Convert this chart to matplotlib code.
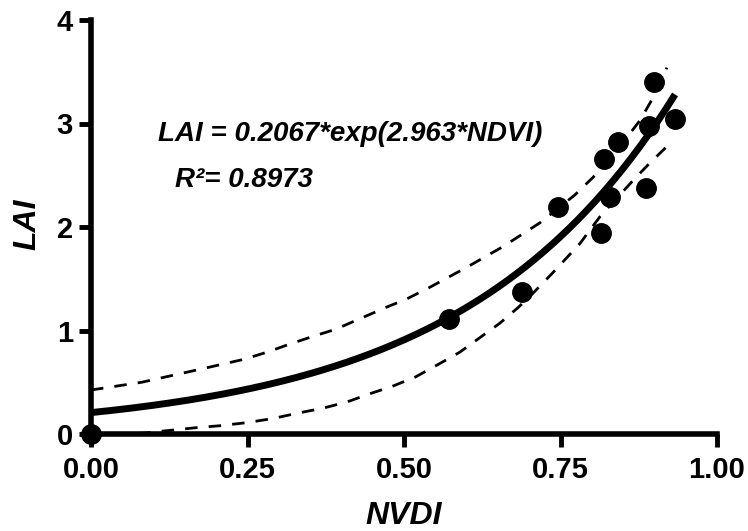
import numpy as np
import matplotlib
matplotlib.use("Agg")
import matplotlib.pyplot as plt

# ---- data ----
ndvi = [0.0, 0.572, 0.689, 0.746, 0.815, 0.819, 0.829, 0.842, 0.887, 0.891, 0.899, 0.933]
lai = [0.0, 1.11, 1.37, 2.19, 1.94, 2.66, 2.29, 2.82, 2.38, 2.98, 3.40, 3.04]

fit_a = 0.2067
fit_b = 2.963

upper_x = [0.0, 0.081, 0.185, 0.243, 0.281, 0.318, 0.358, 0.39, 0.470, 0.506, 0.542,
           0.60, 0.658, 0.717, 0.773, 0.802, 0.840, 0.877, 0.896, 0.920]
upper_y = [0.425, 0.50, 0.64, 0.72, 0.79, 0.87, 0.95, 1.01, 1.22, 1.31, 1.42,
           1.61, 1.81, 2.04, 2.31, 2.48, 2.74, 3.03, 3.23, 3.54]

lower_x = [0.0, 0.086, 0.166, 0.206, 0.249, 0.291, 0.329, 0.371, 0.409, 0.446, 0.481,
           0.518, 0.554, 0.589, 0.621, 0.653, 0.682, 0.706, 0.738, 0.781, 0.813,
           0.869, 0.893, 0.922]
lower_y = [-0.02, 0.01, 0.06, 0.08, 0.11, 0.15, 0.20, 0.25, 0.31, 0.39, 0.46,
           0.55, 0.67, 0.79, 0.93, 1.07, 1.22, 1.36, 1.56, 1.84, 2.10,
           2.47, 2.62, 2.79]

x_ticks = [0.0, 0.25, 0.50, 0.75, 1.00]
x_tick_labels = ["0.00", "0.25", "0.50", "0.75", "1.00"]
y_ticks = [0, 1, 2, 3, 4]
y_tick_labels = ["0", "1", "2", "3", "4"]

eq_text = "LAI = 0.2067*exp(2.963*NDVI)"
r2_text = "R\u00b2= 0.8973"

# ---- figure ----
plt.rcParams['font.family'] = ['Liberation Sans', 'DejaVu Sans']
W, H = 748, 531
fig = plt.figure(figsize=(W / 100, H / 100), dpi=100)
ax = fig.add_axes([91 / W, 97 / H, 626 / W, 414 / H])

xf = np.linspace(0, max(ndvi), 200)
ax.plot(xf, fit_a * np.exp(fit_b * xf), color='black', lw=5, solid_capstyle='butt', zorder=3)
ax.plot(upper_x, upper_y, color='black', lw=2, dashes=(4.5, 4.0), zorder=2)
ax.plot(lower_x, lower_y, color='black', lw=2, dashes=(4.5, 4.0), zorder=2)
ax.plot(ndvi, lai, 'o', color='black', ms=14, clip_on=False, zorder=4)

ax.set_xlim(0, 1)
ax.set_ylim(0, 4)
for s in ['top', 'right']:
    ax.spines[s].set_visible(False)
for s in ['left', 'bottom']:
    ax.spines[s].set_linewidth(4)
    ax.spines[s].set_capstyle('projecting')

ax.set_xticks(x_ticks)
ax.set_xticklabels(x_tick_labels)
ax.set_yticks(y_ticks)
ax.set_yticklabels(y_tick_labels)
ax.tick_params(axis='both', direction='out', length=9, width=3.5, labelsize=21)
ax.tick_params(axis='x', pad=7)
ax.tick_params(axis='y', pad=4)
for lab in ax.get_xticklabels() + ax.get_yticklabels():
    lab.set_fontweight('bold')

ax.text(0.107, 2.83, eq_text, fontsize=20, fontweight='bold', fontstyle='italic',
        ha='left', va='baseline')
ax.text(0.134, 2.39, r2_text, fontsize=20, fontweight='bold', fontstyle='italic',
        ha='left', va='baseline')

fig.text(404 / W, (H - 524) / H, "NVDI", fontsize=23, fontweight='bold', fontstyle='italic',
         ha='center', va='baseline')
fig.text(27 / W, (H - 224) / H, "LAI", fontsize=23, fontweight='bold', fontstyle='italic',
         ha='center', va='center', rotation=90)

fig.savefig("out.png", dpi=100)
